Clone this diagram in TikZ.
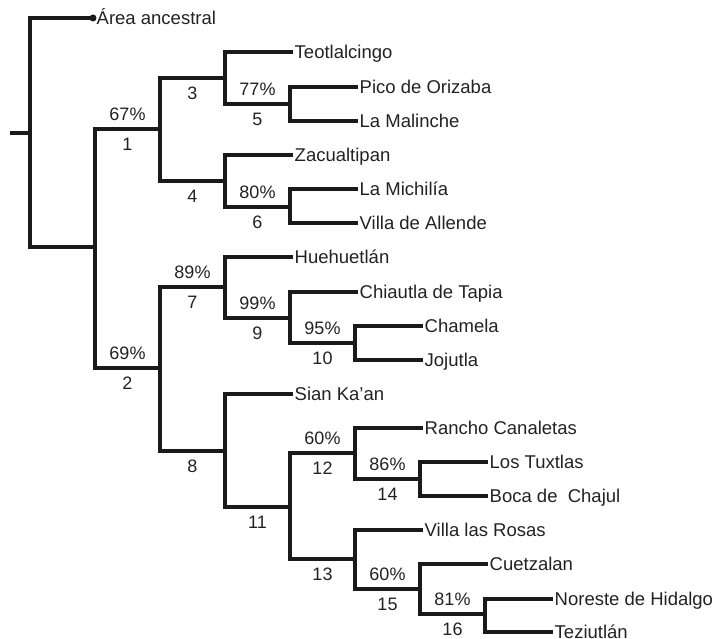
\documentclass[tikz,border=0pt]{standalone}
\usepackage{fontspec}
\setmainfont{Liberation Sans}
\definecolor{linec}{HTML}{1A1A1A}
\definecolor{textc}{HTML}{222222}
\begin{document}
\begin{tikzpicture}[x=1pt,y=-1pt,
  br/.style={line width=4.5pt, draw=linec, line join=miter},
  leaf/.style={anchor=west, inner sep=1.5pt, text=textc, text height=14.5pt, text depth=1.5pt,
    font=\fontsize{18.5}{21}\selectfont},
  lab/.style={pos=0.75, inner sep=0pt, text=textc, text height=13pt, text depth=0pt,
    font=\fontsize{18}{21}\selectfont},
  pct/.style={lab, yshift=15pt},
  num/.style={lab, yshift=-15pt}]
\useasboundingbox (0,0) rectangle (715,639);
% internal nodes
\coordinate (stem) at (10,133);
\coordinate (R) at (30,133);
\coordinate (anc) at (93,18);
\coordinate (A) at (95,247);
\coordinate (N1) at (160,129);
\coordinate (N2) at (160,368);
\coordinate (N3) at (225,78);
\coordinate (N4) at (225,181);
\coordinate (N5) at (290,104);
\coordinate (N6) at (290,207);
\coordinate (N7) at (225,287);
\coordinate (N8) at (225,451);
\coordinate (N9) at (290,318);
\coordinate (N10) at (355,343);
\coordinate (N11) at (290,507);
\coordinate (N12) at (355,453);
\coordinate (N13) at (355,559);
\coordinate (N14) at (420,479);
\coordinate (N15) at (420,589);
\coordinate (N16) at (485,614);
% leaves
\node[leaf] (ancl) at (95,18) {Área ancestral};
\node[leaf] (teo) at (293,52) {Teotlalcingo};
\node[leaf] (pico) at (358,87) {Pico de Orizaba};
\node[leaf] (mal) at (358,121) {La Malinche};
\node[leaf] (zac) at (293,155) {Zacualtipan};
\node[leaf] (mich) at (358,189) {La Michilía};
\node[leaf] (vall) at (358,223) {Villa de Allende};
\node[leaf] (hue) at (293,257) {Huehuetlán};
\node[leaf] (chi) at (358,292) {Chiautla de Tapia};
\node[leaf] (cham) at (423,326) {Chamela};
\node[leaf] (joj) at (423,360) {Jojutla};
\node[leaf] (sian) at (293,394) {Sian Ka'an};
\node[leaf] (ran) at (423,428) {Rancho Canaletas};
\node[leaf] (tux) at (488,462) {Los Tuxtlas};
\node[leaf] (boca) at (488,496) {Boca de\ \ Chajul};
\node[leaf] (vros) at (423,530) {Villa las Rosas};
\node[leaf] (cue) at (488,564) {Cuetzalan};
\node[leaf] (nor) at (553,599) {Noreste de Hidalgo};
\node[leaf] (tez) at (553,632) {Teziutlán};
% branches
\draw[br] (stem) -- (R);
\draw[br] (R) |- (anc);
\fill[linec] (anc) circle (3.5);
\draw[br] (R) |- (A);
\draw[br] (A) |- node[pct]{67\%} node[num]{1} (N1);
\draw[br] (A) |- node[pct]{69\%} node[num]{2} (N2);
\draw[br] (N1) |- node[num]{3} (N3);
\draw[br] (N1) |- node[num]{4} (N4);
\draw[br] (N3) |- (teo.west);
\draw[br] (N3) |- node[pct]{77\%} node[num]{5} (N5);
\draw[br] (N5) |- (pico.west);
\draw[br] (N5) |- (mal.west);
\draw[br] (N4) |- (zac.west);
\draw[br] (N4) |- node[pct]{80\%} node[num]{6} (N6);
\draw[br] (N6) |- (mich.west);
\draw[br] (N6) |- (vall.west);
\draw[br] (N2) |- node[pct]{89\%} node[num]{7} (N7);
\draw[br] (N2) |- node[num]{8} (N8);
\draw[br] (N7) |- (hue.west);
\draw[br] (N7) |- node[pct]{99\%} node[num]{9} (N9);
\draw[br] (N9) |- (chi.west);
\draw[br] (N9) |- node[pct]{95\%} node[num]{10} (N10);
\draw[br] (N10) |- (cham.west);
\draw[br] (N10) |- (joj.west);
\draw[br] (N8) |- (sian.west);
\draw[br] (N8) |- node[num]{11} (N11);
\draw[br] (N11) |- node[pct]{60\%} node[num]{12} (N12);
\draw[br] (N11) |- node[num]{13} (N13);
\draw[br] (N12) |- (ran.west);
\draw[br] (N12) |- node[pct]{86\%} node[num]{14} (N14);
\draw[br] (N14) |- (tux.west);
\draw[br] (N14) |- (boca.west);
\draw[br] (N13) |- (vros.west);
\draw[br] (N13) |- node[pct]{60\%} node[num]{15} (N15);
\draw[br] (N15) |- (cue.west);
\draw[br] (N15) |- node[pct]{81\%} node[num]{16} (N16);
\draw[br] (N16) |- (nor.west);
\draw[br] (N16) |- (tez.west);
\end{tikzpicture}
\end{document}
